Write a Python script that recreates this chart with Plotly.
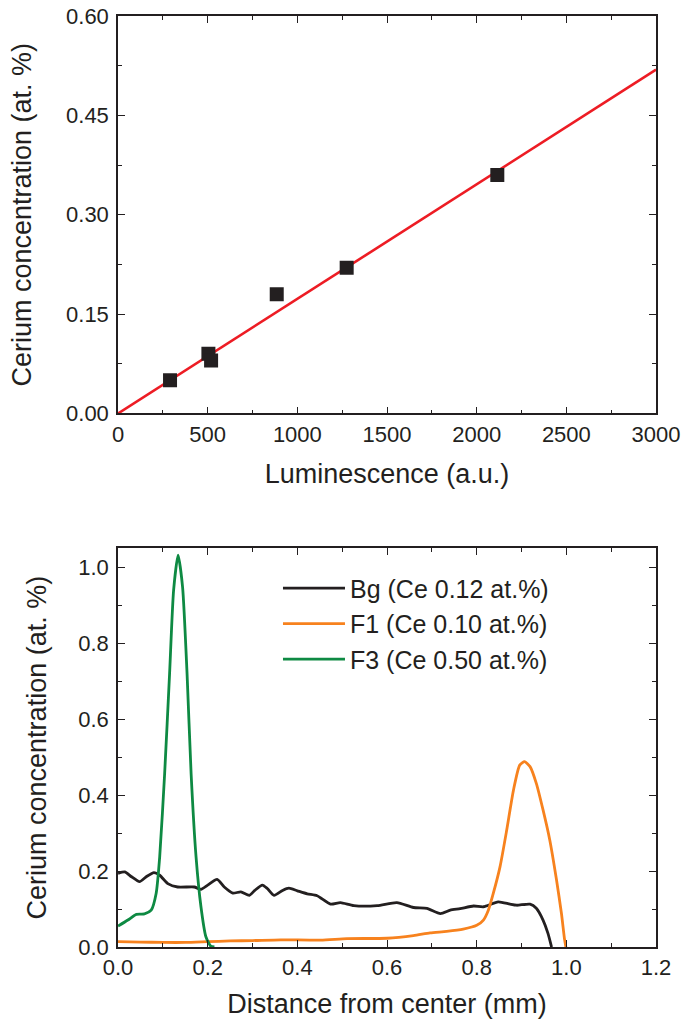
import plotly.graph_objects as go

# ---------- Top panel data ----------
lum_x = [290, 504, 519, 885, 1275, 2115]
ce_y = [0.05, 0.09, 0.08, 0.18, 0.22, 0.36]
fit_x = [0, 3000]
fit_y = [0.0, 0.519]

# ---------- Bottom panel data ----------
bg_x = [0.0, 0.015, 0.03, 0.048, 0.063, 0.08, 0.093, 0.111, 0.133, 0.17, 0.185, 0.2,
        0.221, 0.237, 0.256, 0.274, 0.293, 0.305, 0.322, 0.333, 0.348, 0.367, 0.381,
        0.4, 0.422, 0.444, 0.474, 0.496, 0.526, 0.578, 0.622, 0.659, 0.689, 0.719,
        0.741, 0.763, 0.793, 0.815, 0.848, 0.874, 0.889, 0.919, 0.933, 0.948, 0.959, 0.967]
bg_y = [0.194, 0.198, 0.185, 0.172, 0.185, 0.196, 0.189, 0.167, 0.158, 0.158, 0.152, 0.163,
        0.178, 0.158, 0.142, 0.145, 0.136, 0.149, 0.163, 0.154, 0.136, 0.149, 0.155,
        0.148, 0.14, 0.135, 0.113, 0.117, 0.109, 0.109, 0.117, 0.104, 0.102, 0.088,
        0.097, 0.101, 0.108, 0.106, 0.119, 0.113, 0.110, 0.113, 0.102, 0.071, 0.036, 0.0]

f1_x = [0.0, 0.05, 0.1, 0.15, 0.2, 0.25, 0.3, 0.363, 0.452, 0.511, 0.6, 0.659, 0.696, 0.733,
        0.77, 0.8, 0.815, 0.826, 0.837, 0.852, 0.867, 0.882, 0.896, 0.907, 0.919, 0.933,
        0.948, 0.963, 0.978, 0.989, 0.996, 0.999]
f1_y = [0.014, 0.013, 0.012, 0.012, 0.014, 0.016, 0.017, 0.019, 0.018, 0.022, 0.023, 0.03,
        0.037, 0.041, 0.047, 0.057, 0.071, 0.097, 0.141, 0.211, 0.308, 0.413, 0.479, 0.488,
        0.475, 0.431, 0.361, 0.282, 0.177, 0.089, 0.02, 0.0]

f3_x = [0.0, 0.022, 0.041, 0.059, 0.074, 0.085, 0.093, 0.104, 0.115, 0.124, 0.134, 0.144,
        0.154, 0.163, 0.174, 0.185, 0.196, 0.207, 0.215]
f3_y = [0.055, 0.071, 0.086, 0.087, 0.097, 0.141, 0.238, 0.457, 0.72, 0.94, 1.032, 0.948,
        0.72, 0.457, 0.238, 0.106, 0.027, 0.002, 0.0]

series_names = ["Bg (Ce 0.12 at.%)", "F1 (Ce 0.10 at.%)", "F3 (Ce 0.50 at.%)"]

INK = "#231f20"
FONT = "Liberation Sans, Arial, sans-serif"

fig = go.Figure()

fig.add_trace(go.Scatter(x=fit_x, y=fit_y, mode="lines",
                         line=dict(color="#ed1c24", width=2.6),
                         showlegend=False, xaxis="x", yaxis="y"))
fig.add_trace(go.Scatter(x=lum_x, y=ce_y, mode="markers",
                         marker=dict(symbol="square", size=14, color=INK),
                         showlegend=False, xaxis="x", yaxis="y"))

for xs, ys, col, name in [(bg_x, bg_y, INK, series_names[0]),
                          (f1_x, f1_y, "#f7821e", series_names[1]),
                          (f3_x, f3_y, "#0e8a43", series_names[2])]:
    fig.add_trace(go.Scatter(x=xs, y=ys, mode="lines", name=name,
                             line=dict(color=col, width=2.8, shape="spline", smoothing=0.6),
                             xaxis="x2", yaxis="y2"))

def axis_style(**kw):
    d = dict(showline=True, linecolor=INK, linewidth=1.5, mirror="ticks",
             ticks="inside", ticklen=7, tickwidth=1.3, tickcolor=INK,
             showgrid=False, zeroline=False, automargin=False,
             ticklabeloverflow="allow",
             tickfont=dict(size=22, color=INK, family=FONT),
             title_font=dict(size=27, color=INK, family=FONT))
    d.update(kw)
    return d

minor_x1 = dict(dtick=250, ticks="inside", ticklen=4, tickcolor=INK)
minor_y1 = dict(dtick=0.075, ticks="inside", ticklen=4, tickcolor=INK)
minor_2 = dict(dtick=0.1, ticks="inside", ticklen=4, tickcolor=INK)

fig.update_layout(
    width=683, height=1026,
    margin=dict(l=0, r=0, t=0, b=0, autoexpand=False),
    paper_bgcolor="white", plot_bgcolor="white",
    font=dict(family=FONT, color=INK),
    xaxis=axis_style(domain=[0.1728, 0.9605], anchor="y", range=[0, 3000],
                     tick0=0, dtick=500, minor=minor_x1,
                     title=dict(text="Luminescence (a.u.)", standoff=18)),
    yaxis=axis_style(domain=[0.597, 0.9844], anchor="x", range=[0, 0.6],
                     tick0=0, dtick=0.15, tickformat=".2f", minor=minor_y1,
                     ticklabelstandoff=3,
                     title=dict(text="Cerium concentration (at. %)", standoff=27)),
    xaxis2=axis_style(domain=[0.1728, 0.9605], anchor="y2", range=[0, 1.2],
                      tick0=0, dtick=0.2, tickformat=".1f", minor=minor_2,
                      title=dict(text="Distance from center (mm)", standoff=15)),
    yaxis2=axis_style(domain=[0.077, 0.4656], anchor="x2", range=[0, 1.05],
                      tick0=0, dtick=0.2, tickformat=".1f", minor=minor_2,
                      ticklabelstandoff=3,
                      title=dict(text="Cerium concentration (at. %)", standoff=24)),
    legend=dict(x=0.407, y=0.4489, xanchor="left", yanchor="top",
                bgcolor="rgba(0,0,0,0)", borderwidth=0,
                font=dict(size=25, color=INK, family=FONT),
                itemwidth=62, tracegroupgap=0),
)

fig.write_html("out.html",
               config={"displayModeBar": False},
               post_script="document.body.style.margin='0';document.body.style.padding='0';")
